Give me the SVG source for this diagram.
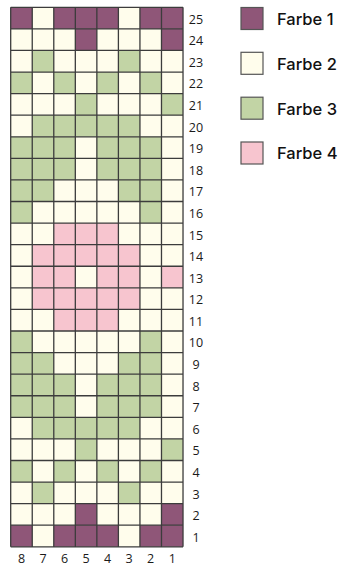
<svg xmlns="http://www.w3.org/2000/svg" width="343" height="569" viewBox="0 0 343 569">
<style>
.p{fill:#8f5678}.c{fill:#fffdec}.g{fill:#c2d4a5}.k{fill:#f7c5cf}
.grid{fill:none;stroke:#3c3c3c;stroke-width:1.3}
.lab{font-family:"Open Sans","Liberation Sans",sans-serif;font-size:12.5px;fill:#1a1a1a;text-anchor:middle}
.leg{font-family:Inter,"Liberation Sans",sans-serif;font-weight:500;font-size:16.5px;fill:#111}
.sw{stroke:#555;stroke-width:1.2}
</style>
<g id="chart" transform="translate(10.7,7.3) scale(21.54,21.58)">
<rect class="c" x="0" y="0" width="8" height="25"/>
<g id="cells">
<rect class="p" x="0" y="0" width="1" height="1"/><rect class="p" x="2" y="0" width="3" height="1"/><rect class="p" x="6" y="0" width="2" height="1"/>
<rect class="p" x="3" y="1" width="1" height="1"/><rect class="p" x="7" y="1" width="1" height="1"/>
<rect class="g" x="1" y="2" width="1" height="1"/><rect class="g" x="5" y="2" width="1" height="1"/>
<rect class="g" x="0" y="3" width="1" height="1"/><rect class="g" x="2" y="3" width="1" height="1"/><rect class="g" x="4" y="3" width="1" height="1"/><rect class="g" x="6" y="3" width="1" height="1"/>
<rect class="g" x="3" y="4" width="1" height="1"/><rect class="g" x="7" y="4" width="1" height="1"/>
<rect class="g" x="1" y="5" width="5" height="1"/>
<rect class="g" x="0" y="6" width="3" height="2"/><rect class="g" x="4" y="6" width="3" height="2"/>
<rect class="g" x="0" y="8" width="2" height="1"/><rect class="g" x="5" y="8" width="2" height="1"/>
<rect class="g" x="0" y="9" width="1" height="1"/><rect class="g" x="6" y="9" width="1" height="1"/>
<rect class="k" x="2" y="10" width="3" height="1"/>
<rect class="k" x="1" y="11" width="5" height="1"/>
<rect class="k" x="1" y="12" width="2" height="1"/><rect class="k" x="4" y="12" width="2" height="1"/><rect class="k" x="7" y="12" width="1" height="1"/>
<rect class="k" x="1" y="13" width="5" height="1"/>
<rect class="k" x="2" y="14" width="3" height="1"/>
<rect class="g" x="0" y="15" width="1" height="1"/><rect class="g" x="6" y="15" width="1" height="1"/>
<rect class="g" x="0" y="16" width="2" height="1"/><rect class="g" x="5" y="16" width="2" height="1"/>
<rect class="g" x="0" y="17" width="3" height="2"/><rect class="g" x="4" y="17" width="3" height="2"/>
<rect class="g" x="1" y="19" width="5" height="1"/>
<rect class="g" x="3" y="20" width="1" height="1"/><rect class="g" x="7" y="20" width="1" height="1"/>
<rect class="g" x="0" y="21" width="1" height="1"/><rect class="g" x="2" y="21" width="1" height="1"/><rect class="g" x="4" y="21" width="1" height="1"/><rect class="g" x="6" y="21" width="1" height="1"/>
<rect class="g" x="1" y="22" width="1" height="1"/><rect class="g" x="5" y="22" width="1" height="1"/>
<rect class="p" x="3" y="23" width="1" height="1"/><rect class="p" x="7" y="23" width="1" height="1"/>
<rect class="p" x="0" y="24" width="1" height="1"/><rect class="p" x="2" y="24" width="3" height="1"/><rect class="p" x="6" y="24" width="2" height="1"/>
</g>
<path class="grid" vector-effect="non-scaling-stroke" d="M0 0V25M1 0V25M2 0V25M3 0V25M4 0V25M5 0V25M6 0V25M7 0V25M8 0V25M0 0H8M0 1H8M0 2H8M0 3H8M0 4H8M0 5H8M0 6H8M0 7H8M0 8H8M0 9H8M0 10H8M0 11H8M0 12H8M0 13H8M0 14H8M0 15H8M0 16H8M0 17H8M0 18H8M0 19H8M0 20H8M0 21H8M0 22H8M0 23H8M0 24H8M0 25H8"/>
</g>
<g id="row-labels">
<text class="lab" x="196" y="23.7">25</text>
<text class="lab" x="196" y="45.3">24</text>
<text class="lab" x="196" y="66.9">23</text>
<text class="lab" x="196" y="88.4">22</text>
<text class="lab" x="196" y="110">21</text>
<text class="lab" x="196" y="131.6">20</text>
<text class="lab" x="196" y="153.2">19</text>
<text class="lab" x="196" y="174.8">18</text>
<text class="lab" x="196" y="196.3">17</text>
<text class="lab" x="196" y="217.9">16</text>
<text class="lab" x="196" y="239.5">15</text>
<text class="lab" x="196" y="261.1">14</text>
<text class="lab" x="196" y="282.7">13</text>
<text class="lab" x="196" y="304.2">12</text>
<text class="lab" x="196" y="325.8">11</text>
<text class="lab" x="196" y="347.4">10</text>
<text class="lab" x="196" y="369">9</text>
<text class="lab" x="196" y="390.6">8</text>
<text class="lab" x="196" y="412.1">7</text>
<text class="lab" x="196" y="433.7">6</text>
<text class="lab" x="196" y="455.3">5</text>
<text class="lab" x="196" y="476.9">4</text>
<text class="lab" x="196" y="498.5">3</text>
<text class="lab" x="196" y="520">2</text>
<text class="lab" x="196" y="541.6">1</text>
</g>
<g id="col-labels">
<text class="lab" x="21.5" y="563">8</text>
<text class="lab" x="43" y="563">7</text>
<text class="lab" x="64.6" y="563">6</text>
<text class="lab" x="86.1" y="563">5</text>
<text class="lab" x="107.6" y="563">4</text>
<text class="lab" x="129.2" y="563">3</text>
<text class="lab" x="150.7" y="563">2</text>
<text class="lab" x="172.3" y="563">1</text>
</g>
<g id="legend-1"><rect class="p sw" x="241" y="7.5" width="22" height="22"/><text class="leg" x="277" y="24.8">Farbe 1</text></g>
<g id="legend-2"><rect class="c sw" x="241" y="52.3" width="22" height="22"/><text class="leg" x="277" y="69.6">Farbe 2</text></g>
<g id="legend-3"><rect class="g sw" x="241" y="97.2" width="22" height="22"/><text class="leg" x="277" y="114.5">Farbe 3</text></g>
<g id="legend-4"><rect class="k sw" x="241" y="142" width="22" height="22"/><text class="leg" x="277" y="159.3">Farbe 4</text></g>
</svg>
